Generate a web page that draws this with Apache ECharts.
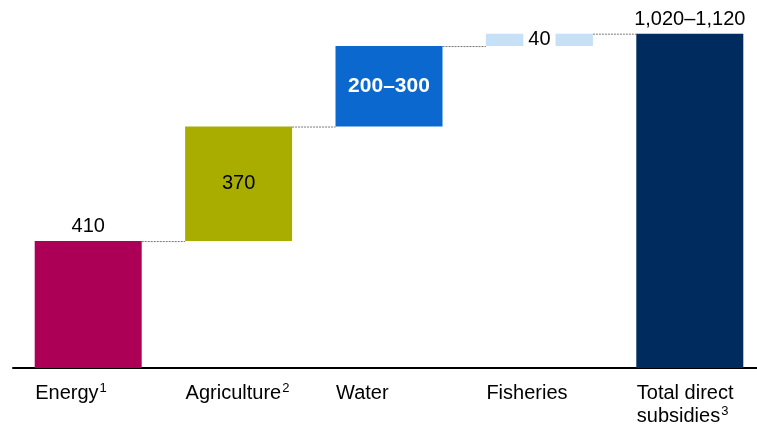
<!DOCTYPE html>
<html><head><meta charset="utf-8">
<script src="https://cdn.jsdelivr.net/npm/echarts@6/dist/echarts.min.js"></script>
<style>html,body{margin:0;padding:0;background:#fff}#c{width:757px;height:432px}</style>
</head><body><div id="c"></div>
<script>
const categories = ['Energy', 'Agriculture', 'Water', 'Fisheries', 'Total direct\nsubsidies'];
const footnotes = ['1', '2', '', '', '3'];
const values = [410, 370, 260, 40, 1080];
const valueLabels = ['410', '370', '200–300', '40', '1,020–1,120'];
const isTotal = [false, false, false, false, true];

const colors = ['#ac0057', '#a8ad00', '#0a68cf', '#c6e0f8', '#002b5e'];
const FONT = 'Liberation Sans, Arial, sans-serif';
const BAR_W = 107;

// bases for the floating bars
const bases = [];
let run = 0;
values.forEach((v, i) => {
  if (isTotal[i]) { bases.push(0); }
  else { bases.push(run); run += v; }
});
const tops = values.map((v, i) => bases[i] + v);

const labelStyles = [
  {position: 'top', distance: 5, color: '#000', fontSize: 20},
  {position: 'inside', color: '#000', fontSize: 20},
  {position: 'inside', color: '#fff', fontSize: 21, fontWeight: 'bold'},
  {position: 'inside', color: '#000', fontSize: 20, backgroundColor: '#fff', padding: [1, 5, 0, 5]},
  {position: 'top', distance: 4, color: '#000', fontSize: 20}
];

const mainData = values.map((v, i) => ({
  value: v,
  itemStyle: {color: colors[i]},
  label: Object.assign({show: true, fontFamily: FONT, formatter: valueLabels[i]}, labelStyles[i])
}));

const connectors = [];
for (let i = 0; i < values.length - 1; i++) connectors.push([i, tops[i]]);

const chart = echarts.init(document.getElementById('c'), null, {renderer: 'canvas'});
chart.setOption({
  animation: false,
  backgroundColor: '#fff',
  grid: {left: 13, width: 752, top: 12, bottom: 64, containLabel: false, outerBoundsMode: 'none'},
  xAxis: {
    type: 'category',
    data: categories,
    axisLine: {lineStyle: {color: '#000', width: 2}},
    axisTick: {show: false},
    axisLabel: {
      interval: 0,
      align: 'left',
      padding: [0, 0, 0, -53],
      margin: 14,
      color: '#000',
      fontSize: 20,
      fontFamily: FONT,
      lineHeight: 23,
      formatter: (val, idx) => footnotes[idx] ? val + '{sup|' + footnotes[idx] + '}' : val,
      rich: {sup: {fontSize: 13, fontFamily: FONT, color: '#000', verticalAlign: 'top', lineHeight: 23, padding: [0, 0, 8, 1]}}
    }
  },
  yAxis: {type: 'value', min: 0, max: 1150, show: false, splitLine: {show: false}},
  series: [
    {type: 'bar', stack: 'w', barWidth: BAR_W, data: bases, itemStyle: {color: 'transparent'}, silent: true},
    {type: 'bar', stack: 'w', barWidth: BAR_W, data: mainData, z: 3},
    {
      type: 'custom',
      data: connectors,
      z: 1,
      renderItem: (params, api) => {
        const i = api.value(0);
        const y = api.coord([i, api.value(1)])[1];
        const x1 = api.coord([i, 0])[0] + BAR_W / 2;
        const x2 = api.coord([i + 1, 0])[0] - BAR_W / 2;
        return {type: 'line', shape: {x1: x1, y1: y + 0.5, x2: x2, y2: y + 0.5},
          style: {stroke: '#777', lineWidth: 1, lineDash: [2, 1]}};
      }
    }
  ]
});
</script></body></html>
